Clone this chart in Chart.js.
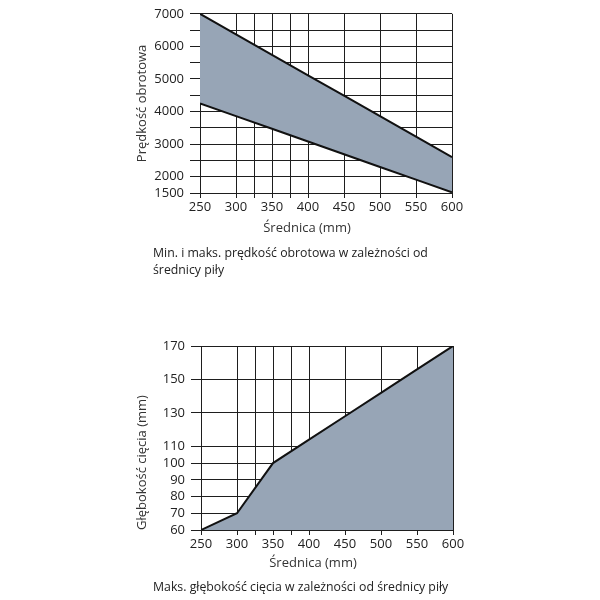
<!DOCTYPE html>
<html><head><meta charset="utf-8">
<script src="https://cdn.jsdelivr.net/npm/chart.js@4"></script>
<style>
html,body{margin:0;padding:0;background:#fff;width:600px;height:600px;overflow:hidden;}
.wrap{position:absolute;left:0;width:600px;}
.cap{position:absolute;left:153px;font-family:"Open Sans",sans-serif;font-size:12.3px;line-height:17px;color:#222;}
.xt{position:absolute;width:200px;text-align:center;font-family:"Open Sans",sans-serif;font-size:13px;line-height:17px;color:#333;}
</style></head>
<body>
<div class="wrap" style="top:0;height:240px;"><canvas id="c1" width="600" height="240"></canvas></div>
<div class="xt" style="left:207px;top:219px;">Średnica (mm)</div>
<div class="cap" style="top:244px;width:300px;">Min. i maks. prędkość obrotowa w zależności od<br>średnicy piły</div>
<div class="wrap" style="top:330px;height:248px;"><canvas id="c2" width="600" height="248"></canvas></div>
<div class="xt" style="left:213px;top:554px;">Średnica (mm)</div>
<div class="cap" style="top:578px;width:340px;">Maks. głębokość cięcia w zależności od średnicy piły</div>
<script>
// ---- data ----
const diameters = [250, 300, 350, 400, 450, 500, 550, 600];
const speedMax = [7000, 6370, 5740, 5110, 4490, 3860, 3230, 2600];
const speedMin = [4250, 3860, 3470, 3080, 2690, 2300, 1910, 1520];
const depthMax = [60, 70, 100, 114, 128, 142, 156, 170];
const xGridTicks = [250, 300, 325, 350, 375, 400, 450, 500, 550, 600];
const xLabelTicks = [250, 300, 350, 400, 450, 500, 550, 600];
const speedGridTicks = [1500, 2000, 2500, 3000, 3500, 4000, 4500, 5000, 5500, 6000, 6500, 7000];
const speedLabelTicks = [1500, 2000, 3000, 4000, 5000, 6000, 7000];
const depthTicks = [60, 70, 80, 90, 100, 110, 130, 150, 170];

const FONT = {family: '"Open Sans", sans-serif', size: 13};
const TXT = '#222';
const GRID = '#1e1e1e';
const FILL = '#97a5b6';

function pts(ys){ return diameters.map((x,i)=>({x:x, y:ys[i]})); }

function makeChart(id, datasets, yMin, yMax, yGrid, yLabels, yTitle, yAlign, pad, yW, xH){
  return new Chart(document.getElementById(id), {
    type: 'line',
    data: {datasets: datasets},
    options: {
      responsive: false, animation: false,
      layout: {padding: pad},
      plugins: {legend: {display: false}, tooltip: {enabled: false}},
      elements: {point: {radius: 0}, line: {tension: 0, borderWidth: 2, borderColor: '#111'}},
      scales: {
        x: {
          type: 'linear', min: 250, max: 600,
          afterBuildTicks: s => { s.ticks = xGridTicks.map(v=>({value:v})); },
          afterFit: s => { s.height = xH; },
          grid: {color: GRID, lineWidth: 1, tickLength: 5, drawTicks: true},
          border: {color: GRID, width: 1},
          ticks: {font: FONT, color: TXT, padding: 1, maxRotation: 0, autoSkip: false,
            callback: v => xLabelTicks.includes(v) ? String(v) : ''},
          title: {display: false}
        },
        y: {
          type: 'linear', min: yMin, max: yMax,
          afterBuildTicks: s => { s.ticks = yGrid.map(v=>({value:v})); },
          afterFit: s => { s.width = yW; },
          grid: {color: GRID, lineWidth: 1, tickLength: 10, drawTicks: true},
          border: {color: GRID, width: 1},
          ticks: {font: FONT, color: TXT, padding: 6, autoSkip: false,
            callback: v => yLabels.includes(v) ? String(v) : ''},
          title: {display: true, text: yTitle, font: FONT, color: '#333', align: yAlign, padding: {top: 4, bottom: 4}}
        }
      }
    }
  });
}

makeChart('c1', [
  {data: pts(speedMax), fill: false, borderColor: '#111'},
  {data: pts(speedMin), fill: '-1', backgroundColor: FILL, borderColor: '#111'}
], 1500, 7000, speedGridTicks, speedLabelTicks, 'Prędkość obrotowa', 'center',
  {left: 130, right: 148, top: 10, bottom: 0}, 70, 47);

makeChart('c2', [
  {data: pts(depthMax), fill: 'start', backgroundColor: FILL, borderColor: '#111'}
], 60, 170, depthTicks, depthTicks, 'Głębokość cięcia (mm)', 'start',
  {left: 130, right: 147, top: 16, bottom: 0}, 71, 48);
</script>
</body></html>
